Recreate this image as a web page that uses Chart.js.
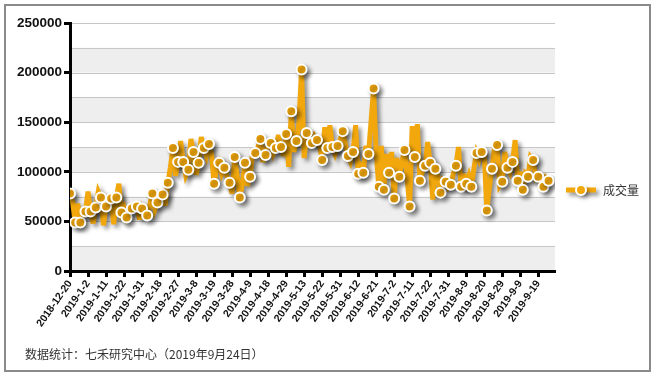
<!DOCTYPE html>
<html>
<head>
<meta charset="utf-8">
<script src="https://cdn.jsdelivr.net/npm/chart.js@4"></script>
<style>
  html, body { margin: 0; padding: 0; background: #fff; }
  #wrap { position: relative; width: 654px; height: 376px; }
  #frame {
    position: absolute; left: 4px; top: 4px; width: 643px; height: 364px;
    border: 2px solid #8a8a8a; pointer-events: none;
  }
  #note {
    position: absolute; left: 25px; top: 345px;
    font: 12px "Noto Sans CJK SC", sans-serif; color: #333;
  }
</style>
</head>
<body>
<div id="wrap">
  <canvas id="c" width="654" height="376"></canvas>
  <div id="frame"></div>
  <div id="note">数据统计：七禾研究中心（2019年9月24日）</div>
</div>
<script>
// ── Data ─────────────────────────────────────────────────────
// x-axis labels, one every 7 trading days
const dateLabels = [
  '2018-12-20', '2019-1-2', '2019-1-11', '2019-1-22', '2019-1-31', '2019-2-18',
  '2019-2-27', '2019-3-8', '2019-3-19', '2019-3-28', '2019-4-9', '2019-4-18',
  '2019-4-29', '2019-5-13', '2019-5-22', '2019-5-31', '2019-6-12', '2019-6-21',
  '2019-7-2', '2019-7-11', '2019-7-22', '2019-7-31', '2019-8-9', '2019-8-20',
  '2019-8-29', '2019-9-9', '2019-9-19'
];

const seriesName = '成交量';

// daily volume, in thousands
const volumeK = [
   78,  70,  49,  68,  49,  58,  60,  80,  60,  48,
   64,  80,  74,  46,  65,  72,  73,  47,  74,  88,
   59,  64,  54,  60,  63,  66,  65,  52,  63,  58,
   56,  66,  78,  62,  69,  74,  77,  66,  89, 104,
  124,  96, 110, 131, 110,  96, 102, 133, 120,  97,
  109, 135, 124, 116, 128, 118,  88, 104, 109,  98,
  104,  96,  89,  78, 115,  95,  74,  88, 109,  86,
   95, 120, 119, 124, 133, 110, 117, 130, 129, 118,
  124, 137, 125, 116, 138, 105, 161, 120, 131, 150,
  203, 114, 139, 128, 129, 136, 132, 126, 112, 145,
  124, 147, 125, 118, 126, 132, 141, 128, 116, 110,
  120, 147,  98, 105,  99, 126, 118, 150, 184, 120,
   85, 126,  82, 118,  99, 120,  73, 114,  95, 110,
  122,  95,  65, 146, 115, 148,  91, 100, 106, 130,
  109,  72, 103,  95,  79,  92,  90,  84,  87,  98,
  106, 125,  85,  98,  88,  96,  85, 104, 119, 112,
  120, 118,  61,  84, 103, 125, 127,  86,  90, 120,
  104,  99, 110, 132,  91, 100,  82,  98,  95, 115,
  112,  93,  95,  88,  85,  94,  91
];

const yTicks = [0, 50000, 100000, 150000, 200000, 250000];

// ── Helpers ──────────────────────────────────────────────────
const ORANGE = '#f2a80d';
const points = volumeK.map((v, i) => ({ x: i, y: v * 1000 }));

// alternating grey bands + grid lines every 25000 (drawn under the axes)
const bandPlugin = {
  id: 'bands',
  beforeDraw(chart) {
    const { ctx, chartArea: a, scales: { y } } = chart;
    ctx.save();
    for (let v = 0; v < 250000; v += 50000) {
      const top = y.getPixelForValue(v + 25000);
      const bot = y.getPixelForValue(v);
      ctx.fillStyle = '#eeeeee';
      ctx.fillRect(a.left, top, a.right - a.left, bot - top);
    }
    ctx.strokeStyle = '#c6c6c6';
    ctx.lineWidth = 1;
    for (let v = 25000; v <= 250000; v += 25000) {
      const py = Math.round(y.getPixelForValue(v)) + 0.5;
      ctx.beginPath();
      ctx.moveTo(a.left, py);
      ctx.lineTo(a.right, py);
      ctx.stroke();
    }
    ctx.restore();
  }
};

// drop shadow under the series, moderate miter spikes
const shadowPlugin = {
  id: 'shadow',
  beforeDatasetDraw(chart) {
    const ctx = chart.ctx;
    ctx.save();
    ctx.miterLimit = 4;
    ctx.shadowColor = 'rgba(0,0,0,0.45)';
    ctx.shadowOffsetX = 3;
    ctx.shadowOffsetY = 3;
    ctx.shadowBlur = 4;
  },
  afterDatasetDraw(chart) {
    chart.ctx.restore();
  }
};

// legend on the right: line sample with a marker
const legendPlugin = {
  id: 'sideLegend',
  afterDraw(chart) {
    const ctx = chart.ctx;
    const x0 = 566, x1 = 596, ly = 190;
    ctx.save();
    ctx.shadowColor = 'rgba(0,0,0,0.45)';
    ctx.shadowOffsetX = 3;
    ctx.shadowOffsetY = 3;
    ctx.shadowBlur = 4;
    ctx.strokeStyle = ORANGE;
    ctx.lineWidth = 5;
    ctx.beginPath();
    ctx.moveTo(x0, ly);
    ctx.lineTo(x1, ly);
    ctx.stroke();
    ctx.beginPath();
    ctx.arc((x0 + x1) / 2, ly, 5, 0, Math.PI * 2);
    ctx.fillStyle = ORANGE;
    ctx.fill();
    ctx.shadowColor = 'transparent';
    ctx.lineWidth = 2;
    ctx.strokeStyle = '#fff';
    ctx.stroke();
    ctx.fillStyle = '#333';
    ctx.font = '12px "Noto Sans CJK SC", sans-serif';
    ctx.textBaseline = 'middle';
    ctx.fillText(seriesName, 603, ly);
    ctx.restore();
  }
};

// ── Chart ────────────────────────────────────────────────────
new Chart(document.getElementById('c'), {
  type: 'line',
  data: {
    datasets: [{
      label: seriesName,
      data: points,
      fill: false,
      borderColor: ORANGE,
      borderWidth: 5,
      borderJoinStyle: 'miter',
      tension: 0,
      backgroundColor: ORANGE,
      pointBackgroundColor: ORANGE,
      pointBorderColor: '#fff',
      pointBorderWidth: 2,
      pointRadius: ctx => (ctx.dataIndex % 2 === 0 ? 5 : 0),
      pointHoverRadius: 0
    }]
  },
  options: {
    responsive: false,
    animation: false,
    events: [],
    layout: { padding: { top: 23, right: 99, left: 0, bottom: 0 } },
    plugins: { legend: { display: false }, tooltip: { enabled: false } },
    scales: {
      x: {
        type: 'linear',
        min: 0,
        max: 188.5,
        afterBuildTicks: s => { s.ticks = dateLabels.map((_, i) => ({ value: i * 7 })); },
        afterFit: s => { s.height = 105; },
        border: { color: '#000', width: 3 },
        grid: { drawOnChartArea: false, tickColor: '#000', tickWidth: 3, tickLength: 6 },
        ticks: {
          autoSkip: false,
          minRotation: 55,
          maxRotation: 55,
          padding: 1,
          color: '#111',
          font: { family: '"Liberation Sans", Arial', size: 10.5, weight: 'bold' },
          callback: v => dateLabels[v / 7] ?? ''
        }
      },
      y: {
        min: 0,
        max: 250000,
        afterBuildTicks: s => { s.ticks = yTicks.map(v => ({ value: v })); },
        afterFit: s => { s.width = 70; },
        border: { color: '#000', width: 3 },
        grid: { drawOnChartArea: false, tickColor: '#000', tickWidth: 3, tickLength: 6 },
        ticks: {
          padding: 2,
          color: '#111',
          font: { family: '"Liberation Sans", Arial', size: 13.5, weight: 'bold' },
          callback: v => String(v)
        }
      }
    }
  },
  plugins: [bandPlugin, shadowPlugin, legendPlugin]
});
</script>
</body>
</html>
